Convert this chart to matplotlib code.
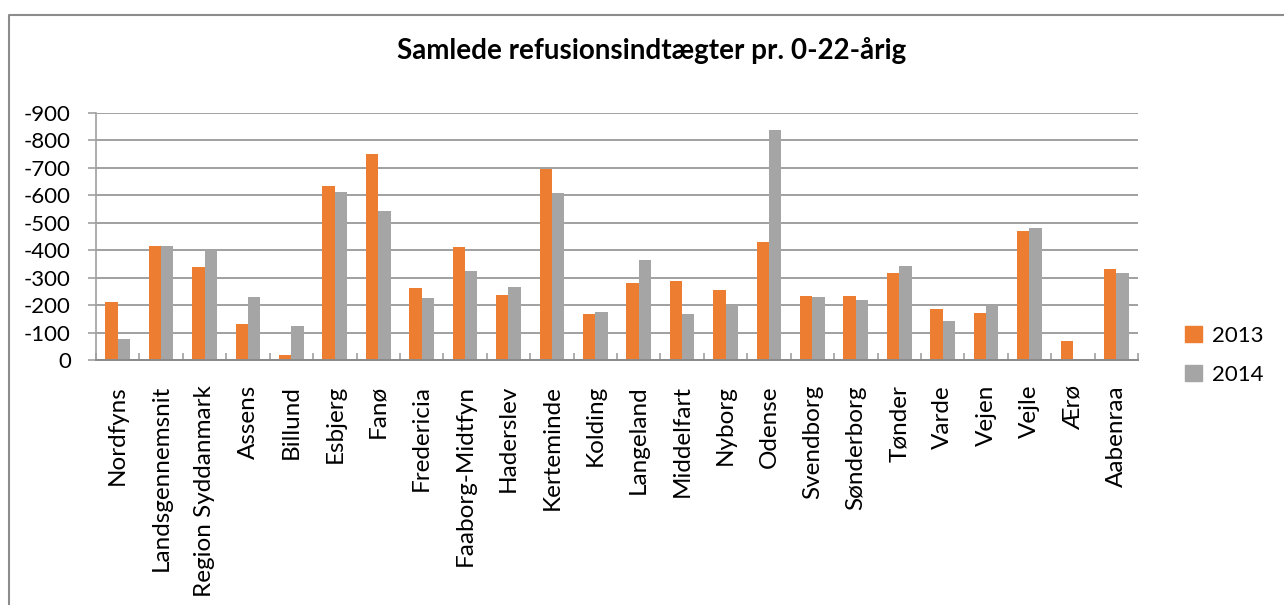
import matplotlib.pyplot as plt
from matplotlib.lines import Line2D
from matplotlib.patches import Patch
import numpy as np

plt.rcParams["font.family"] = ["Lato", "DejaVu Sans"]

categories = ["Nordfyns", "Landsgennemsnit", "Region Syddanmark", "Assens", "Billund",
              "Esbjerg", "Fanø", "Fredericia", "Faaborg-Midtfyn", "Haderslev",
              "Kerteminde", "Kolding", "Langeland", "Middelfart", "Nyborg", "Odense",
              "Svendborg", "Sønderborg", "Tønder", "Varde", "Vejen", "Vejle", "Ærø",
              "Aabenraa"]
v2013 = [-210, -415, -338, -130, -17, -634, -751, -262, -411, -236, -696, -167,
         -280, -287, -254, -429, -232, -232, -316, -185, -170, -470, -68, -331]
v2014 = [-75, -415, -399, -229, -123, -612, -543, -225, -324, -265, -608, -174,
         -364, -167, -200, -838, -229, -218, -342, -141, -200, -481, 0, -316]
years = ["2013", "2014"]
yticks = [0, -100, -200, -300, -400, -500, -600, -700, -800, -900]

orange = "#ED7D31"
gray = "#A5A5A5"

fig = plt.figure(figsize=(12.84, 6.05), dpi=100)
ax = fig.add_axes([96 / 1284, 1 - 360 / 605, (1138 - 96) / 1284, (360 - 113) / 605])

x = np.arange(len(categories))
w = 0.284
ax.bar(x - w / 2, v2013, width=w, color=orange, zorder=3)
ax.bar(x + w / 2, v2014, width=w, color=gray, zorder=3)

ax.set_xlim(-0.5, len(categories) - 0.5)
ax.set_ylim(0, -900)
ax.set_yticks(yticks)
ax.set_yticklabels([str(t) for t in yticks], fontsize=16)
ax.yaxis.grid(True, color="#A0A0A0", lw=1.4, zorder=0)

ax.set_xticks(x)
ax.set_xticklabels(categories, rotation=90, fontsize=17.5, ha="center", va="top")
ax.tick_params(axis="x", length=0, pad=18)
ax.set_xticks(np.arange(-0.5, len(categories)), minor=True)
ax.tick_params(axis="x", which="minor", direction="in", length=5, color="#A0A0A0", width=1.2)
ax.tick_params(axis="y", length=6, color="#A0A0A0", width=1.2, pad=12)

for s in ["top", "right"]:
    ax.spines[s].set_visible(False)
ax.spines["left"].set_color("#A0A0A0")
ax.spines["left"].set_linewidth(1.2)
ax.spines["bottom"].set_color("#8A8A8A")
ax.spines["bottom"].set_linewidth(1.4)
ax.spines["bottom"].set_zorder(4)

fig.text(652 / 1284, 1 - 50 / 605, "Samlede refusionsindtægter pr. 0-22-årig",
         ha="center", va="center", fontsize=20, fontweight="bold")

handles = [Patch(color=orange), Patch(color=gray)]
fig.legend(handles, years, loc="upper left", bbox_to_anchor=(1165 / 1284, 1 - 306 / 605),
           frameon=False, fontsize=16, handlelength=0.75, handleheight=0.75,
           labelspacing=0.85, handletextpad=0.45)

# outer chart border (top and left)
fig.add_artist(Line2D([9 / 1284, 9 / 1284, 1], [0, 1 - 15 / 605, 1 - 15 / 605],
                      transform=fig.transFigure, color="#8C8C8C", lw=1.5))

fig.savefig("out.png", dpi=100)
